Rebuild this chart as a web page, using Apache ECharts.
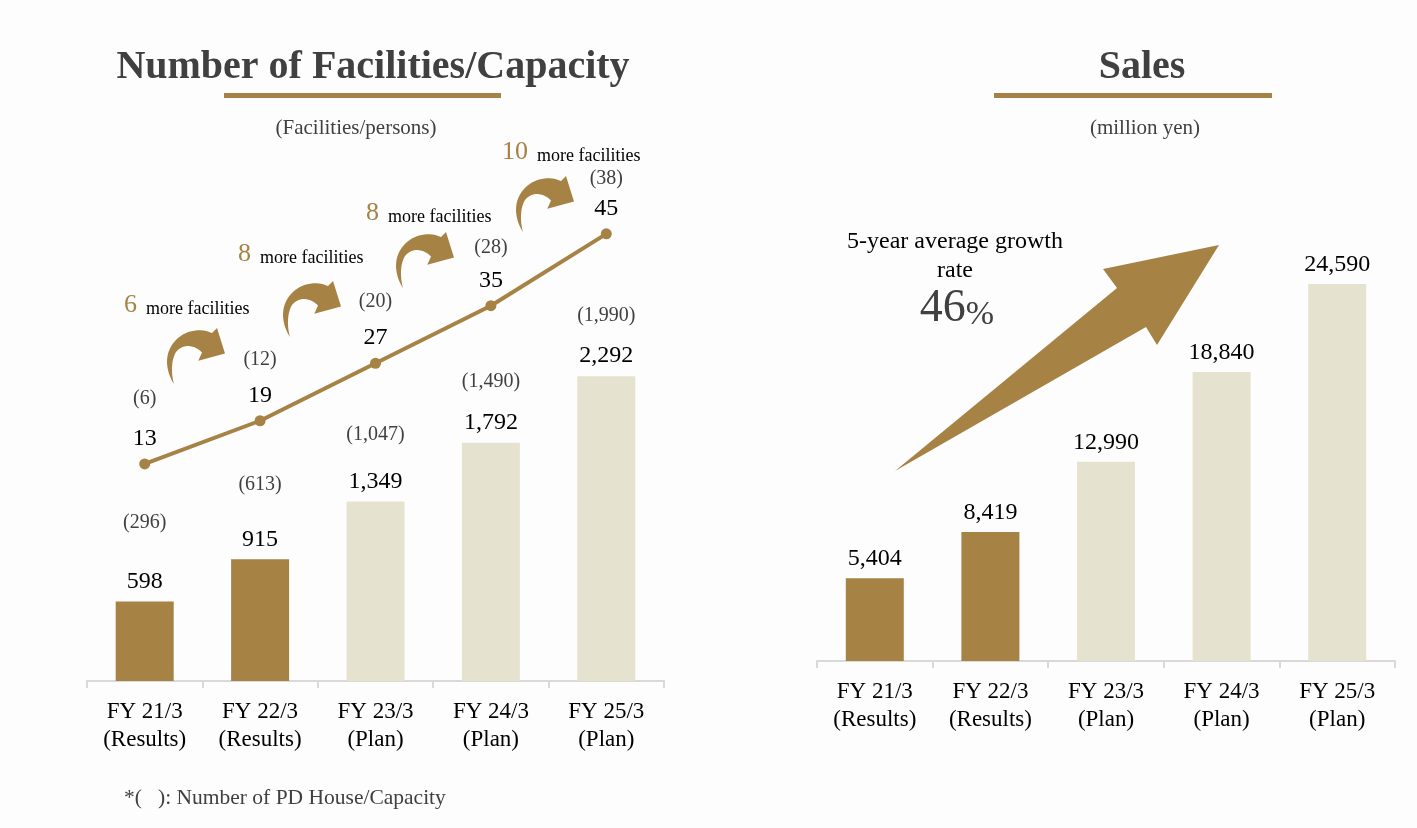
<!DOCTYPE html>
<html><head><meta charset="utf-8">
<script src="https://cdn.jsdelivr.net/npm/echarts@6/dist/echarts.min.js"></script>
<style>html,body{margin:0;padding:0;background:#fdfdfd}#c{width:1417px;height:828px}</style>
</head><body><div id="c"></div>
<script>
// ---- data ----
const fyLabels = ['FY 21/3', 'FY 22/3', 'FY 23/3', 'FY 24/3', 'FY 25/3'];
const phases = ['Results', 'Results', 'Plan', 'Plan', 'Plan'];
const capacity = [598, 915, 1349, 1792, 2292];
const pdCapacity = [296, 613, 1047, 1490, 1990];
const facilities = [13, 19, 27, 35, 45];
const pdFacilities = [6, 12, 20, 28, 38];
const sales = [5404, 8419, 12990, 18840, 24590];
const facilityIncrements = [6, 8, 8, 10];
const growthRate = 46;

// ---- styles ----
const GOLD = '#A68345', LIGHT = '#E5E2CF', GRAY = '#404040', AXIS = '#d9d9d9';
const SERIF = '"Liberation Serif", "Times New Roman", serif';
const capGap = [94, 86, 70, 58, 56];
const facGap = [56, 48, 48, 40, 36];
const arrowPos = [[163, 320], [279, 273], [392, 224], [512, 168]];
const incPos = [[124, 318], [238, 267], [366, 226], [502, 165]];

const fmt = v => v.toLocaleString('en-US');
const categories = fyLabels.map((f, i) => f + '\n(' + phases[i] + ')');
const barColor = i => phases[i] === 'Results' ? GOLD : LIGHT;

function pairLabel(main, sub, gap) {
  return {
    formatter: '{p|(' + sub + ')}\n{v|' + main + '}',
    rich: {
      p: { fontFamily: SERIF, fontSize: 20, color: GRAY, lineHeight: gap },
      v: { fontFamily: SERIF, fontSize: 24, color: '#000', lineHeight: 24 }
    }
  };
}

const xAxisCommon = {
  type: 'category', data: categories, boundaryGap: true,
  axisLine: { lineStyle: { color: AXIS, width: 2 } },
  axisTick: { show: true, length: 7, lineStyle: { color: AXIS, width: 2 } },
  axisLabel: { interval: 0, fontFamily: SERIF, fontSize: 23, color: '#000', lineHeight: 28, margin: 17 },
  splitLine: { show: false }
};
const yHidden = { type: 'value', show: false, splitLine: { show: false } };

// curved arrow outline (local coords), built from bezier segments
function cubic(p0, p1, p2, p3, n) {
  const out = [];
  for (let k = 1; k <= n; k++) {
    const t = k / n, u = 1 - t;
    out.push([u*u*u*p0[0] + 3*u*u*t*p1[0] + 3*u*t*t*p2[0] + t*t*t*p3[0],
              u*u*u*p0[1] + 3*u*u*t*p1[1] + 3*u*t*t*p2[1] + t*t*t*p3[1]]);
  }
  return out;
}
const arrowShape = (function () {
  let pts = [[11, 64]];
  pts = pts.concat(cubic([11, 64], [3, 52], [-1, 32], [15, 18], 16));
  pts = pts.concat(cubic([15, 18], [24, 10], [38, 8], [49, 13], 12));
  pts.push([54, 8], [62, 33.5], [35.3, 40.7], [39, 32.5]);
  pts = pts.concat(cubic([39, 32.5], [32, 25], [20, 23], [13, 32], 12));
  pts = pts.concat(cubic([13, 32], [8, 40], [8, 54], [11, 64], 10));
  return pts;
})();

const graphics = [
  { type: 'text', x: 373, y: 68, style: { text: 'Number of Facilities/Capacity', font: 'bold 40px ' + SERIF, fill: GRAY, align: 'center', verticalAlign: 'middle' } },
  { type: 'rect', shape: { x: 224, y: 93, width: 277, height: 5 }, style: { fill: GOLD } },
  { type: 'text', x: 356, y: 128, style: { text: '(Facilities/persons)', font: '21px ' + SERIF, fill: GRAY, align: 'center', verticalAlign: 'middle' } },
  { type: 'text', x: 1142, y: 68, style: { text: 'Sales', font: 'bold 40px ' + SERIF, fill: GRAY, align: 'center', verticalAlign: 'middle' } },
  { type: 'rect', shape: { x: 994, y: 93, width: 278, height: 5 }, style: { fill: GOLD } },
  { type: 'text', x: 1145, y: 128, style: { text: '(million yen)', font: '21px ' + SERIF, fill: GRAY, align: 'center', verticalAlign: 'middle' } },
  { type: 'text', x: 124, y: 798, style: { text: '*(\u2002 ): Number of PD House/Capacity', font: '21.5px ' + SERIF, fill: GRAY, align: 'left', verticalAlign: 'middle' } },
  { type: 'polygon', shape: { points: [[895, 471], [1117, 288], [1103, 269], [1219, 245], [1157, 345], [1146, 327]] }, style: { fill: GOLD } },
  { type: 'text', x: 955, y: 256, style: { text: '5-year average growth\nrate', font: '24px ' + SERIF, fill: '#000', align: 'center', verticalAlign: 'middle', lineHeight: 29 } },
  { type: 'text', x: 957, y: 309, style: { text: '{a|' + growthRate + '}{b|%}', align: 'center', verticalAlign: 'middle',
      rich: { a: { fontFamily: SERIF, fontSize: 46, fill: GRAY, verticalAlign: 'bottom', lineHeight: 46 }, b: { fontFamily: SERIF, fontSize: 34, fill: GRAY, verticalAlign: 'bottom', lineHeight: 46 } } } }
];
facilityIncrements.forEach((n, i) => {
  graphics.push({ type: 'polygon', x: arrowPos[i][0], y: arrowPos[i][1], shape: { points: arrowShape }, style: { fill: GOLD } });
  graphics.push({ type: 'text', x: incPos[i][0], y: incPos[i][1], style: {
    text: '{n|' + n + '}{t|  more facilities}', align: 'left', verticalAlign: 'bottom',
    rich: { n: { fontFamily: SERIF, fontSize: 26, fill: GOLD, verticalAlign: 'bottom', lineHeight: 29 },
            t: { fontFamily: SERIF, fontSize: 18, fill: '#000', verticalAlign: 'bottom', lineHeight: 29 } } } });
});

const option = {
  backgroundColor: '#fdfdfd',
  animation: false,
  grid: [
    { left: 87, width: 577, top: 149, bottom: 147 },
    { left: 817, width: 578, top: 201, bottom: 167 }
  ],
  xAxis: [Object.assign({ gridIndex: 0 }, xAxisCommon), Object.assign({ gridIndex: 1 }, xAxisCommon)],
  yAxis: [
    Object.assign({ gridIndex: 0, min: 0, max: 4000 }, yHidden),
    Object.assign({ gridIndex: 0, min: -17.2, max: 56.8 }, yHidden),
    Object.assign({ gridIndex: 1, min: 0, max: 30000 }, yHidden)
  ],
  series: [
    {
      type: 'bar', xAxisIndex: 0, yAxisIndex: 0, barWidth: 58,
      data: capacity.map((v, i) => ({ value: v, itemStyle: { color: barColor(i) },
        label: Object.assign({ show: true, position: 'top', distance: 8 }, pairLabel(fmt(v), fmt(pdCapacity[i]), capGap[i])) }))
    },
    {
      type: 'line', xAxisIndex: 0, yAxisIndex: 1, z: 5,
      symbol: 'circle', symbolSize: 11,
      lineStyle: { color: GOLD, width: 4 }, itemStyle: { color: GOLD },
      data: facilities.map((v, i) => ({ value: v,
        label: Object.assign({ show: true, position: 'top', distance: 8 }, pairLabel(String(v), String(pdFacilities[i]), facGap[i])) }))
    },
    {
      type: 'bar', xAxisIndex: 1, yAxisIndex: 2, barWidth: 58,
      label: { show: true, position: 'top', distance: 7, fontFamily: SERIF, fontSize: 24, color: '#000', formatter: p => fmt(p.value) },
      data: sales.map((v, i) => ({ value: v, itemStyle: { color: barColor(i) } }))
    }
  ],
  graphic: graphics
};

const chart = echarts.init(document.getElementById('c'), null, { renderer: 'canvas' });
chart.setOption(option);
</script>
</body></html>
